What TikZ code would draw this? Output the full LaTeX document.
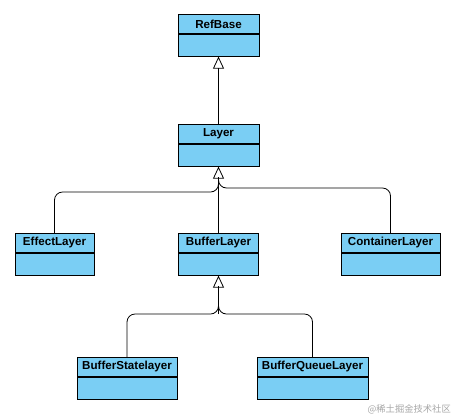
\documentclass[tikz,border=0pt]{standalone}
\usepackage{fontspec}
\setmainfont{Liberation Sans}
\newfontfamily\cjk{Noto Sans CJK SC}
\usetikzlibrary{arrows.meta}
\definecolor{umlblue}{RGB}{122,206,244}
\tikzset{
  hdr/.style={draw=black, line width=0.8pt, fill=umlblue, minimum height=19pt, inner sep=0pt, font=\fontsize{11.6}{13}\selectfont\bfseries, anchor=north},
  bdy/.style={draw=black, line width=0.8pt, fill=umlblue, minimum height=22pt, inner sep=0pt, anchor=north},
  inh/.style={line width=0.8pt, -{Triangle[open, length=12pt, width=11pt]}},
  link/.style={line width=0.8pt, rounded corners=8pt}
}
\begin{document}
\begin{tikzpicture}[x=1pt, y=-1pt]
\useasboundingbox (0,0) rectangle (454,416);
% RefBase
\node[hdr, minimum width=81pt] (refbase) at (218.5,14) {RefBase};
\node[bdy, minimum width=81pt] (refbaseB) at (refbase.south) {};
% Layer
\node[hdr, minimum width=81pt] (layer) at (218.5,124) {Layer};
\node[bdy, minimum width=81pt] (layerB) at (layer.south) {};
% second row
\node[hdr, minimum width=79pt] (eff) at (54.5,233) {EffectLayer};
\node[bdy, minimum width=79pt] (effB) at (eff.south) {};
\node[hdr, minimum width=80pt] (buf) at (218.5,233) {BufferLayer};
\node[bdy, minimum width=80pt] (bufB) at (buf.south) {};
\node[hdr, minimum width=99pt] (cont) at (390.5,233) {ContainerLayer};
\node[bdy, minimum width=99pt] (contB) at (cont.south) {};
% third row
\node[hdr, minimum width=100pt] (bst) at (127,357) {BufferStatelayer};
\node[bdy, minimum width=100pt] (bstB) at (bst.south) {};
\node[hdr, minimum width=111pt] (bq) at (312.5,357) {BufferQueueLayer};
\node[bdy, minimum width=111pt] (bqB) at (bq.south) {};
% helper coordinates
\coordinate (jl) at (218.5,192);
\coordinate (jr) at (218.5,188);
\coordinate (tb1) at (218.5,177);
\coordinate (jb) at (218.5,314);
\coordinate (tb2) at (218.5,286);
% connectors
\draw[inh] (layer.north) -- (refbaseB.south);
\draw[inh] (buf.north) -- (layerB.south);
\draw[link] (eff.north) |- (jl) -- (tb1);
\draw[link] (cont.north) |- (jr) -- (tb1);
\draw[inh] (jb) -- (bufB.south);
\draw[link] (bst.north) |- (jb) -- (tb2);
\draw[link] (bq.north) |- (jb) -- (tb2);
% watermark
\node[anchor=east, text=black!35, font=\cjk\fontsize{9.3}{10}\selectfont, inner sep=0pt] (wm) at (451,409) {@稀土掘金技术社区};
\end{tikzpicture}
\end{document}
